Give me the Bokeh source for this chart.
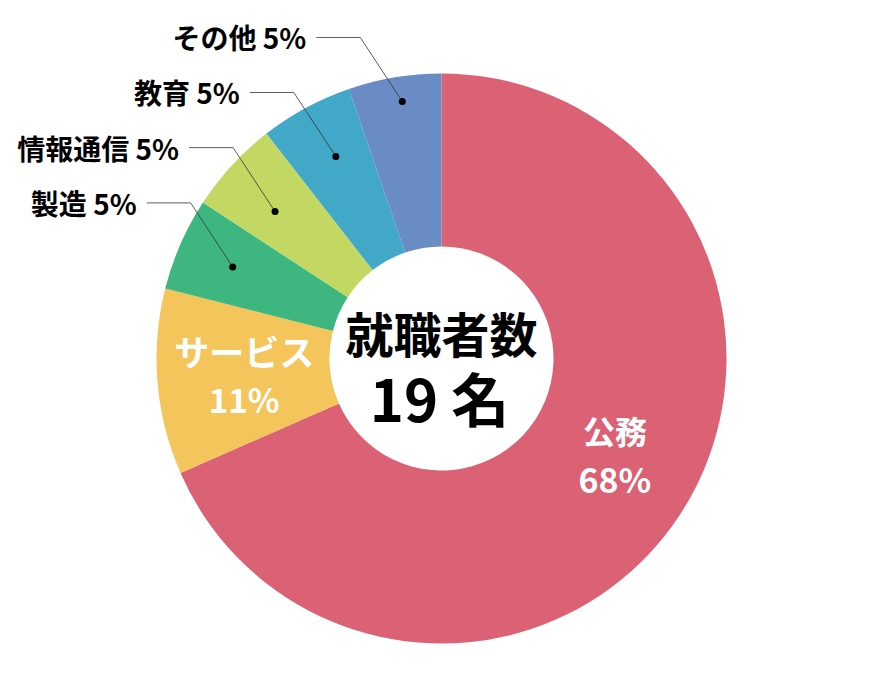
import math
from bokeh.plotting import figure
from bokeh.models import Range1d, ColumnDataSource
from bokeh.core.properties import value
from bokeh.embed import file_html
from bokeh.resources import INLINE

# ---- data ----
categories = ["公務", "サービス", "製造", "情報通信", "教育", "その他"]
counts = [13, 2, 1, 1, 1, 1]
percent_labels = ["68%", "11%", "5%", "5%", "5%", "5%"]
total_label = "19 名"
center_title = "就職者数"

# ---- styles ----
colors = ["#DB6274", "#F3C55B", "#3DB77F", "#C2D862", "#41A9C7", "#698CC5"]
inside = [True, True, False, False, False, False]
inside_name_size = {0: "32px", 1: "35px"}
inside_pct_size = {0: "34px", 1: "33px"}
inside_angle_shift = {0: math.radians(4.3), 1: 0.0}
dot_radius = {2: 228, 3: 222, 4: 228, 5: 260}
dot_angle_shift = {2: 0.0, 3: math.radians(1.2), 4: math.radians(-0.8), 5: math.radians(-0.8)}
FONT = "Noto Sans CJK JP"
W, H = 865, 684
R_OUT, R_IN = 285, 112

p = figure(width=W, height=H, output_backend="svg", toolbar_location=None,
           x_range=Range1d(-441, 424), y_range=Range1d(-326, 358),
           min_border=0, outline_line_color=None)
p.axis.visible = False
p.grid.visible = False
p.background_fill_color = "white"

total = sum(counts)
starts, ends, mids = [], [], []
cum = 0
for c in counts:
    a0 = math.pi / 2 - 2 * math.pi * cum / total
    cum += c
    a1 = math.pi / 2 - 2 * math.pi * cum / total
    starts.append(a0)
    ends.append(a1)
    mids.append((a0 + a1) / 2)

src = ColumnDataSource(dict(start=starts, end=ends, color=colors))
p.annular_wedge(x=0, y=0, inner_radius=R_IN, outer_radius=R_OUT,
                start_angle="start", end_angle="end", direction="clock",
                fill_color="color", line_color=None, source=src)

# inside labels
for i, cat in enumerate(categories):
    if not inside[i]:
        continue
    r = 198
    a = mids[i] + inside_angle_shift[i]
    cx = r * math.cos(a)
    cy = r * math.sin(a)
    p.text(x=[cx], y=[cy + 24], text=[cat], text_color="white",
           text_font=value(FONT), text_font_size=inside_name_size[i],
           text_font_style="bold", text_align="center", text_baseline="middle")
    p.text(x=[cx], y=[cy - 24], text=[percent_labels[i]], text_color="white",
           text_font=value(FONT), text_font_size=inside_pct_size[i],
           text_font_style="bold", text_align="center", text_baseline="middle")

# outside labels with leader lines
for i, cat in enumerate(categories):
    if inside[i]:
        continue
    r = dot_radius[i]
    a = mids[i] + dot_angle_shift[i]
    dx = r * math.cos(a)
    dy = r * math.sin(a)
    ex, ey = dx - 42, dy + 64
    hx = ex - 44
    p.line(x=[dx, ex, hx], y=[dy, ey, ey], line_color="#333333", line_width=0.8)
    p.scatter(x=[dx], y=[dy], size=7, fill_color="black", line_color=None)
    p.text(x=[hx - 10], y=[ey], text=[f"{cat} {percent_labels[i]}"],
           text_color="black", text_font=value(FONT), text_font_size="28px",
           text_font_style="bold", text_align="right", text_baseline="middle")

# center text
p.text(x=[0], y=[27], text=[center_title], text_color="black",
       text_font=value(FONT), text_font_size="48px", text_font_style="bold",
       text_align="center", text_baseline="middle")
p.text(x=[-2], y=[-38], text=[total_label], text_color="black",
       text_font=value(FONT), text_font_size="58px", text_font_style="bold",
       text_align="center", text_baseline="middle")

open("out.html", "w").write(file_html(p, INLINE))
